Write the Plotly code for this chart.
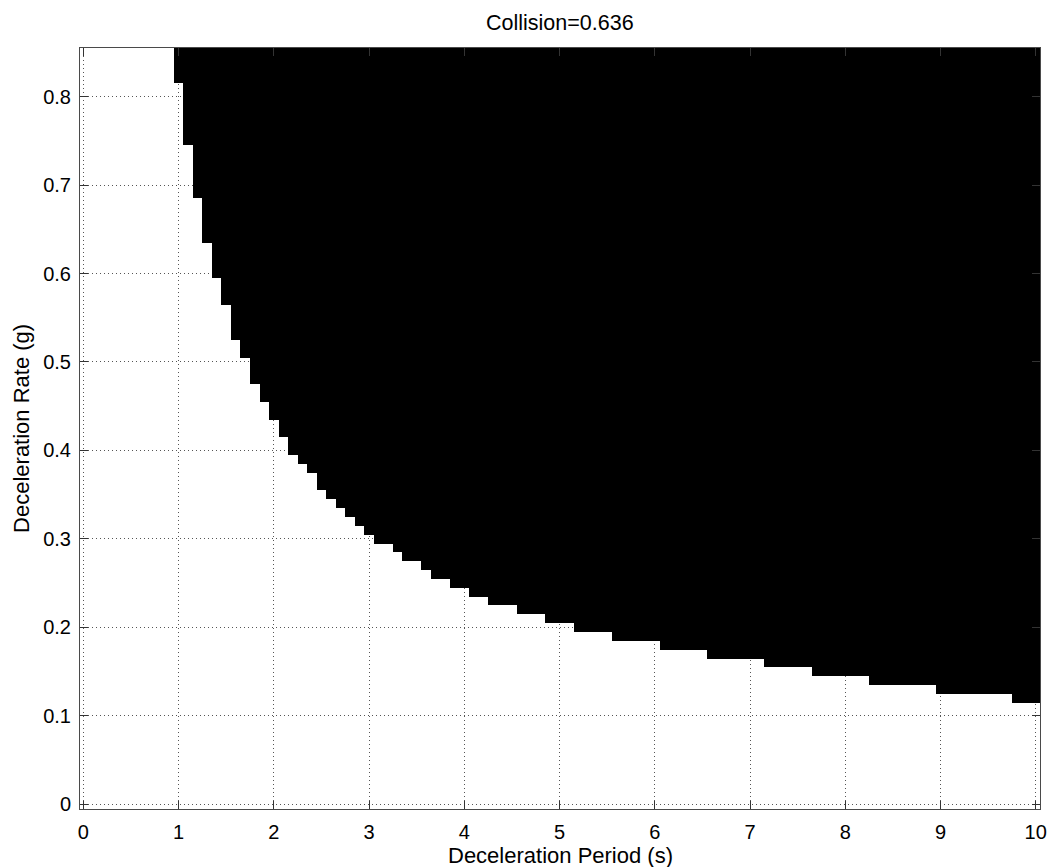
import numpy as np
import plotly.graph_objects as go

# Grid of the simulated parameter space
period_min, period_max, period_step = 0.0, 10.0, 0.1     # Deceleration Period (s)
rate_min, rate_max, rate_step = 0.0, 0.85, 0.01          # Deceleration Rate (g)

# Collision boundary: from each start period onward,
# every rate >= the given rate collides (periods below 1.0 s never collide)
boundary_start_period = [1.0, 1.1, 1.2, 1.3, 1.4, 1.5, 1.6, 1.7, 1.8, 1.9,
                         2.0, 2.1, 2.2, 2.3, 2.4, 2.5, 2.6, 2.7, 2.8, 2.9,
                         3.0, 3.1, 3.3, 3.4, 3.6, 3.7, 3.9, 4.1, 4.3, 4.6,
                         4.9, 5.2, 5.6, 6.1, 6.6, 7.2, 7.7, 8.3, 9.0, 9.8]
boundary_min_rate = [0.82, 0.75, 0.69, 0.64, 0.60, 0.57, 0.53, 0.51, 0.48, 0.46,
                     0.44, 0.42, 0.40, 0.39, 0.38, 0.36, 0.35, 0.34, 0.33, 0.32,
                     0.31, 0.30, 0.29, 0.28, 0.27, 0.26, 0.25, 0.24, 0.23, 0.22,
                     0.21, 0.20, 0.19, 0.18, 0.17, 0.16, 0.15, 0.14, 0.13, 0.12]

x_ticks = [0, 1, 2, 3, 4, 5, 6, 7, 8, 9, 10]
x_tick_labels = ["0", "1", "2", "3", "4", "5", "6", "7", "8", "9", "10"]
y_ticks = [0, 0.1, 0.2, 0.3, 0.4, 0.5, 0.6, 0.7, 0.8]
y_tick_labels = ["0", "0.1", "0.2", "0.3", "0.4", "0.5", "0.6", "0.7", "0.8"]

title_text = "Collision=0.636"
x_label = "Deceleration Period (s)"
y_label = "Deceleration Rate (g)"

periods = np.round(np.arange(period_min, period_max + period_step / 2, period_step), 2)
rates = np.round(np.arange(rate_min, rate_max + rate_step / 2, rate_step), 3)

starts = np.array(boundary_start_period)
thr = []
for p in periods:
    idx = np.where(starts <= p + 1e-9)[0]
    thr.append(boundary_min_rate[idx[-1]] if len(idx) else None)

z = []
for r in rates:
    row = []
    for t in thr:
        row.append(1 if (t is not None and r >= t - 1e-9) else 0)
    z.append(row)

FONT = "Liberation Sans, Arial, Helvetica, sans-serif"

fig = go.Figure()
fig.add_trace(go.Heatmap(
    x=periods, y=rates, z=z,
    zmin=0, zmax=1,
    colorscale=[[0, "rgba(255,255,255,0)"], [1, "black"]],
    showscale=False, hoverinfo="skip",
))

W, H = 1055, 867
L, R, T, B = 80, 8, 48, 58
plot_w = W - L - R
plot_h = H - T - B

axis_common = dict(
    showline=True, linecolor="#4a4a4a", linewidth=1, mirror="ticks",
    ticks="inside", ticklen=8, tickcolor="#333333", tickwidth=1,
    showgrid=True, gridcolor="#555555", gridwidth=1, griddash="1px,3px",
    zeroline=False,
    tickfont=dict(family=FONT, size=20, color="black"),
    tickmode="array",
)

fig.update_xaxes(range=[-0.035, 10.045], tickvals=x_ticks, ticktext=x_tick_labels,
                 ticklabelstandoff=5, **axis_common)
fig.update_yaxes(range=[-0.0055, 0.855], tickvals=y_ticks, ticktext=y_tick_labels,
                 ticklabelstandoff=4, **axis_common)

fig.add_annotation(text=title_text, xref="paper", yref="paper",
                   x=0.5, y=1 + (T - 23) / plot_h, xanchor="center", yanchor="middle",
                   showarrow=False, font=dict(family=FONT, size=21.5, color="black"))
fig.add_annotation(text=x_label, xref="paper", yref="paper",
                   x=0.5, y=-(855 - (H - B)) / plot_h, xanchor="center", yanchor="middle",
                   showarrow=False, font=dict(family=FONT, size=22, color="black"))
fig.add_annotation(text=y_label, xref="paper", yref="paper",
                   x=-(L - 21) / plot_w, y=0.5, xanchor="center", yanchor="middle",
                   textangle=-90,
                   showarrow=False, font=dict(family=FONT, size=22, color="black"))

fig.update_layout(
    width=W, height=H,
    margin=dict(l=L, r=R, t=T, b=B, pad=0),
    paper_bgcolor="white", plot_bgcolor="white",
    showlegend=False,
)

fig.write_html("out.html", config={"displayModeBar": False},
               post_script="document.body.style.margin='0';")
